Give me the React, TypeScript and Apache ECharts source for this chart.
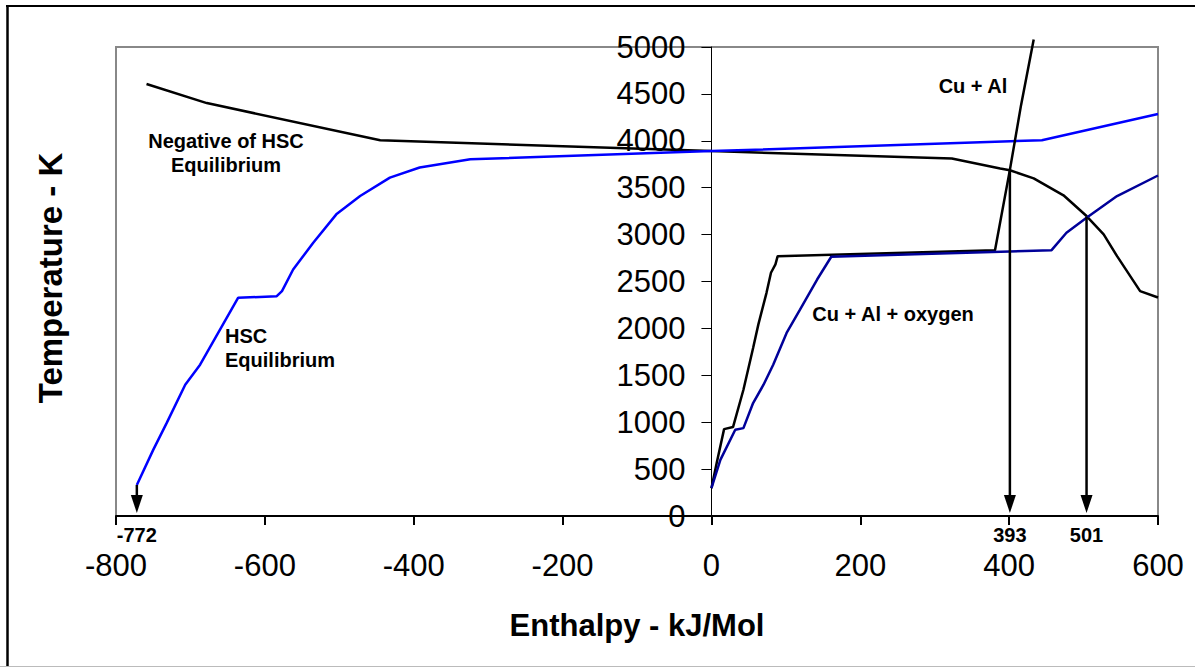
import React, { useEffect, useRef } from "react";
import * as echarts from "echarts";

// Negative of HSC Equilibrium (black)
const negHscX = [-759, -678, -445, 0, 323, 388, 401, 433, 473, 504, 527, 545, 576, 600];
const negHscY = [4605, 4402, 4006, 3890, 3811, 3704, 3686, 3600, 3419, 3198, 3002, 2770, 2397, 2330];

// HSC Equilibrium (blue)
const hscX = [-772, -750, -732, -707, -687, -636, -584, -577, -562, -535, -504, -472, -432, -392, -324, 0, 444, 600];
const hscY = [331, 705, 990, 1400, 1613, 2326, 2343, 2397, 2628, 2913, 3216, 3411, 3608, 3715, 3803, 3890, 4006, 4285];

// Cu + Al (black)
const cuAlX = [0, 7, 17, 29, 43, 56, 63, 74, 80, 86, 89, 381, 390, 401, 416, 433];
const cuAlY = [296, 563, 926, 948, 1346, 1792, 2040, 2379, 2593, 2682, 2770, 2834, 3220, 3690, 4380, 5080];

// Cu + Al + oxygen (navy)
const cuAlOxX = [0, 12, 32, 43, 56, 70, 83, 101, 119, 142, 161, 457, 477, 504, 545, 600];
const cuAlOxY = [296, 598, 919, 937, 1204, 1400, 1613, 1952, 2201, 2521, 2764, 2834, 3020, 3180, 3411, 3630];

// Arrows down to the enthalpy axis
const arrowX = [-772, 401, 504];
const arrowTopY = [331, 3690, 3190];
const arrowLabels = ["-772", "393", "501"];

const xMin = -800;
const xMax = 600;

const pairs = (xs: number[], ys: number[]) => xs.map((x, i) => [x, ys[i]]);

export default function App() {
  const ref = useRef<HTMLDivElement>(null);
  useEffect(() => {
    document.body.style.margin = "0";
    const chart = echarts.init(ref.current!, null, { renderer: "svg" });
    const font = "'Liberation Sans', Arial, sans-serif";
    const gridLeft = 116;
    const gridRight = 37;
    const plotWidth = 1195 - gridLeft - gridRight;
    const yAxisOffset = -((0 - xMin) / (xMax - xMin)) * plotWidth;
    const boldText = (text: string, x: number, y: number, align: string, size = 20) => ({
      type: "text",
      x,
      y,
      style: {
        text,
        fill: "#000",
        font: `bold ${size}px ${font}`,
        align,
        textAlign: align,
        verticalAlign: "middle",
        textVerticalAlign: "middle",
        lineHeight: 24,
      },
      z: 10,
    });
    chart.setOption({
      animation: false,
      grid: {
        left: gridLeft,
        right: gridRight,
        top: 47,
        bottom: 151,
        show: true,
        borderColor: "#888",
        borderWidth: 2,
      },
      xAxis: {
        type: "value",
        min: xMin,
        max: xMax,
        interval: 200,
        axisLine: { onZero: false, lineStyle: { color: "#000", width: 2 } },
        axisTick: { length: 9, lineStyle: { color: "#000", width: 2 } },
        axisLabel: { color: "#000", fontSize: 31, fontFamily: font, margin: 34 },
        splitLine: { show: false },
        name: "Enthalpy - kJ/Mol",
        nameLocation: "middle",
        nameGap: 94,
        nameTextStyle: { color: "#000", fontSize: 31, fontWeight: "bold", fontFamily: font },
      },
      yAxis: {
        type: "value",
        min: 0,
        max: 5000,
        interval: 500,
        position: "left",
        offset: yAxisOffset,
        axisLine: { onZero: false, lineStyle: { color: "#000", width: 1 } },
        axisTick: { length: 10, lineStyle: { color: "#000", width: 1 } },
        axisLabel: {
          color: "#000",
          fontSize: 31,
          fontFamily: font,
          margin: 26,
          formatter: (v: number) => String(v),
        },
        splitLine: { show: false },
      },
      graphic: [
        { type: "line", shape: { x1: 7.5, y1: 5, x2: 7.5, y2: 667 }, style: { stroke: "#000", lineWidth: 2.5 } },
        { type: "line", shape: { x1: 6, y1: 6, x2: 1195, y2: 6 }, style: { stroke: "#000", lineWidth: 2 } },
        { type: "line", shape: { x1: 0, y1: 666.5, x2: 1195, y2: 666.5 }, style: { stroke: "#bbb", lineWidth: 1 } },
        {
          type: "text",
          x: 50,
          y: 278,
          rotation: Math.PI / 2,
          style: {
            text: "Temperature - K",
            fill: "#000",
            font: `bold 33px ${font}`,
            align: "center",
            textAlign: "center",
            verticalAlign: "middle",
            textVerticalAlign: "middle",
          },
        },
        boldText("Negative of HSC\nEquilibrium", 226, 153, "center"),
        boldText("HSC\nEquilibrium", 225, 348, "left"),
        boldText("Cu + Al", 973, 86, "center"),
        boldText("Cu + Al + oxygen", 893, 314, "center"),
      ],
      series: [
        {
          type: "line",
          name: "Negative of HSC Equilibrium",
          data: pairs(negHscX, negHscY),
          symbol: "none",
          lineStyle: { color: "#000", width: 2.5 },
        },
        {
          type: "line",
          name: "HSC Equilibrium",
          data: pairs(hscX, hscY),
          symbol: "none",
          lineStyle: { color: "#0000ff", width: 2.5 },
        },
        {
          type: "line",
          name: "Cu + Al",
          data: pairs(cuAlX, cuAlY),
          symbol: "none",
          clip: false,
          lineStyle: { color: "#000", width: 2.5 },
        },
        {
          type: "line",
          name: "Cu + Al + oxygen",
          data: pairs(cuAlOxX, cuAlOxY),
          symbol: "none",
          lineStyle: { color: "#000099", width: 2.5 },
        },
        {
          type: "custom",
          name: "Arrows",
          clip: false,
          z: 5,
          data: arrowX.map((x, i) => [x, arrowTopY[i], arrowLabels[i]]),
          renderItem: (params: any, api: any) => {
            const x = api.value(0);
            const top = api.coord([x, api.value(1)]);
            const bottom = api.coord([x, 0]);
            const headLen = 18;
            const headHalf = 6;
            const tipY = bottom[1] - 3;
            return {
              type: "group",
              children: [
                {
                  type: "line",
                  shape: { x1: top[0], y1: top[1], x2: top[0], y2: tipY - headLen + 2 },
                  style: { stroke: "#000", lineWidth: 2.5 },
                },
                {
                  type: "polygon",
                  shape: {
                    points: [
                      [bottom[0] - headHalf, tipY - headLen],
                      [bottom[0] + headHalf, tipY - headLen],
                      [bottom[0], tipY],
                    ],
                  },
                  style: { fill: "#000" },
                },
                {
                  type: "text",
                  x: bottom[0],
                  y: bottom[1] + 19,
                  style: {
                    text: String(api.value(2)),
                    fill: "#000",
                    font: `bold 20px ${font}`,
                    align: "center",
                    textAlign: "center",
                    verticalAlign: "middle",
                    textVerticalAlign: "middle",
                  },
                },
              ],
            };
          },
        },
      ],
    });
    return () => chart.dispose();
  }, []);
  return <div ref={ref} style={{ position: "absolute", left: 0, top: 0, width: 1195, height: 667 }} />;
}
